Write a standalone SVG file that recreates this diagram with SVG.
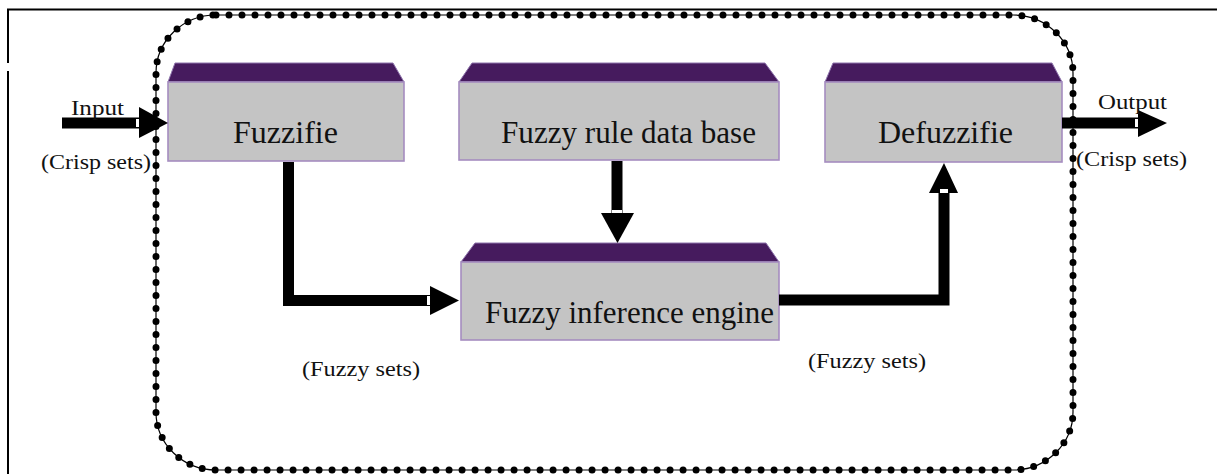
<svg xmlns="http://www.w3.org/2000/svg" width="1217" height="474" viewBox="0 0 1217 474">
<style>
.top{fill:#461B5E;stroke:#8E74AC;stroke-width:1}
.body{fill:#C4C4C4;stroke:#A58DC0;stroke-width:1.6}
.title{font-family:"Liberation Serif","Times New Roman",serif;font-size:31px;fill:#111}
.lbl{font-family:"Liberation Serif","Times New Roman",serif;font-size:22px;fill:#111}
.shaft{fill:none;stroke:#000;stroke-width:11;stroke-linejoin:miter}
.head{fill:#000}
.notch{fill:#fff}
</style>
<rect width="1217" height="474" fill="#fff"/>
<g id="frame">
<path d="M7 9.5H1217" stroke="#000" stroke-width="2" fill="none"/>
<path d="M8 9V63M8 71V474" stroke="#000" stroke-width="2" fill="none"/>
</g>
<g id="boundary">
<rect x="156" y="15" width="917" height="455" rx="60" ry="58" fill="none" stroke="#000" stroke-width="1.2"/>
<rect x="156" y="15" width="917" height="455" rx="60" ry="58" fill="none" stroke="#000" stroke-width="7" stroke-linecap="round" stroke-dasharray="0 13"/>
</g>
<g id="fuzzifier">
<polygon class="top" points="175,63 393,63 404,82 168,82"/>
<rect class="body" x="168" y="82" width="236" height="79"/>
<text class="title" x="233" y="143" textLength="105" lengthAdjust="spacingAndGlyphs">Fuzzifie</text>
</g>
<g id="rulebase">
<polygon class="top" points="472,63 765,63 779,82 459,82"/>
<rect class="body" x="459" y="82" width="320" height="78"/>
<text class="title" x="501" y="143" textLength="255" lengthAdjust="spacingAndGlyphs">Fuzzy rule data base</text>
</g>
<g id="defuzzifier">
<polygon class="top" points="833,63 1052,63 1062,82 825,82"/>
<rect class="body" x="825" y="82" width="237" height="80"/>
<text class="title" x="878" y="143" textLength="135" lengthAdjust="spacingAndGlyphs">Defuzzifie</text>
</g>
<g id="inference">
<polygon class="top" points="475,243 766,243 779,262 461,262"/>
<rect class="body" x="461" y="262" width="318" height="78"/>
<text class="title" x="485" y="323" textLength="289" lengthAdjust="spacingAndGlyphs">Fuzzy inference engine</text>
</g>
<g id="connectors">
<path class="shaft" d="M62 123H140"/>
<polygon class="head" points="139,107 168,123 139,138"/>
<rect class="notch" x="136" y="119" width="3" height="8"/>
<path class="shaft" d="M1062 123H1140"/>
<polygon class="head" points="1138,110 1167,123 1138,137"/>
<rect class="notch" x="1135" y="119" width="3" height="8"/>
<path class="shaft" d="M288.5 162V300.5H432"/>
<polygon class="head" points="430,286 459,300.5 430,315"/>
<rect class="notch" x="427" y="296" width="3" height="9"/>
<path class="shaft" d="M617 161V215"/>
<polygon class="head" points="601,213 634,213 617.5,243"/>
<rect class="notch" x="612" y="210" width="10" height="3"/>
<path class="shaft" d="M779 300H944V190"/>
<polygon class="head" points="929,193 958,193 944,163"/>
<rect class="notch" x="940" y="189" width="8" height="4"/>
</g>
<g id="labels">
<text class="lbl" x="71" y="115" textLength="53" lengthAdjust="spacingAndGlyphs">Input</text>
<text class="lbl" x="41" y="169" textLength="110" lengthAdjust="spacingAndGlyphs">(Crisp sets)</text>
<text class="lbl" x="1098" y="109" textLength="69" lengthAdjust="spacingAndGlyphs">Output</text>
<text class="lbl" x="1076" y="166" textLength="111" lengthAdjust="spacingAndGlyphs">(Crisp sets)</text>
<text class="lbl" x="302" y="376" textLength="118" lengthAdjust="spacingAndGlyphs">(Fuzzy sets)</text>
<text class="lbl" x="808" y="368" textLength="118" lengthAdjust="spacingAndGlyphs">(Fuzzy sets)</text>
</g>
</svg>
